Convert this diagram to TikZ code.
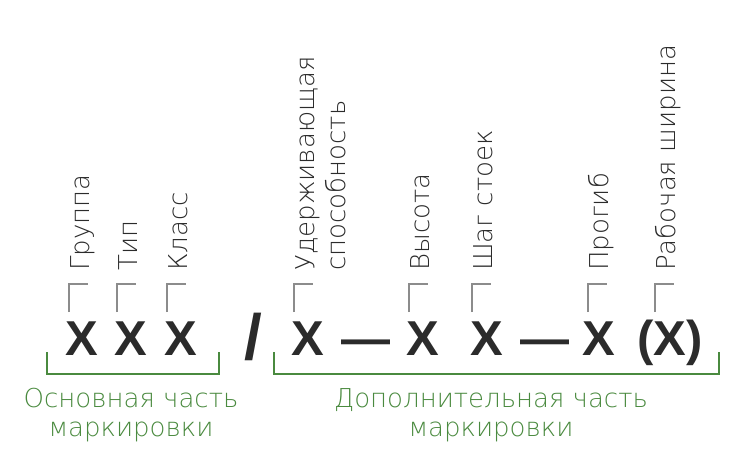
\documentclass[tikz,border=0pt]{standalone}
\usepackage{fontspec}
\setmainfont{DejaVu Sans}
\newfontfamily\fonteGost{DejaVu Sans ExtraLight}
\newfontfamily\fonteCode{Liberation Sans}
\definecolor{encre}{HTML}{2B2B2B}
\definecolor{vert}{HTML}{4A8A3F}
\definecolor{gris}{HTML}{8C8C8C}

\begin{document}
\begin{tikzpicture}[x=1pt, y=-1pt,
    % Caracteres du code de marquage
    code/.style={font=\fonteCode\bfseries\fontsize{49}{49}\selectfont, text=encre,
                 inner sep=0pt, anchor=base},
    % Reperes gris au-dessus des caracteres
    repere/.style={draw=gris, line width=2.5pt},
    % Legendes verticales
    legende/.style={rotate=90, anchor=base west, inner sep=0pt, text=encre,
                    font=\fonteGost\fontsize{26}{26}\selectfont},
    % Accolades et textes des parties
    accolade/.style={draw=vert, line width=2pt},
    partie/.style={align=center, anchor=north, inner sep=0pt, text=vert,
                   font=\fonteGost\fontsize{26}{29}\selectfont}
]
\useasboundingbox (0,0) rectangle (749,458);

% ==========================================
% CODE
% ==========================================
\node[code] (x1) at (82,355) {X};
\node[code] (x2) at (131,355) {X};
\node[code] (x3) at (181,355) {X};
\node[code, font=\fonteCode\bfseries\fontsize{64}{64}\selectfont] (barre) at (253,359) {/};
\node[code] (x4) at (308,355) {X};
\node[code] (tiret1) at (366,355) {—};
\node[code] (x5) at (423,355) {X};
\node[code] (x6) at (487,355) {X};
\node[code] (tiret2) at (545,355) {—};
\node[code] (x7) at (599,355) {X};
\node[code] (x8) at (670,355) {(X)};

% ==========================================
% LEGENDES
% ==========================================
\foreach \mx/\nom/\texte in {69/groupe/Группа, 117/type/Тип, 167/classe/Класс,
    294/capacite/Удерживающая, 409/hauteur/Высота, 472/pas/Шаг стоек,
    588/fleche/Прогиб, 655/largeur/Рабочая ширина}{
  \draw[repere] (\mx,312) -- (\mx,284) -- ++(19,0);
  \node[legende] (\nom) at (\mx+20,271) {\texte};
}
\node[legende] (capacite2) at (345,271) {способность};

% ==========================================
% PARTIES
% ==========================================
\draw[accolade] (47,352) -- (47,374) -- (219,374) -- (219,352);
\draw[accolade] (274,352) -- (274,374) -- (719,374) -- (719,352);

\node[partie] (principale) at (131,388) {Основная часть\\маркировки};
\node[partie] (additionnelle) at (491,388) {Дополнительная часть\\маркировки};

\end{tikzpicture}
\end{document}
